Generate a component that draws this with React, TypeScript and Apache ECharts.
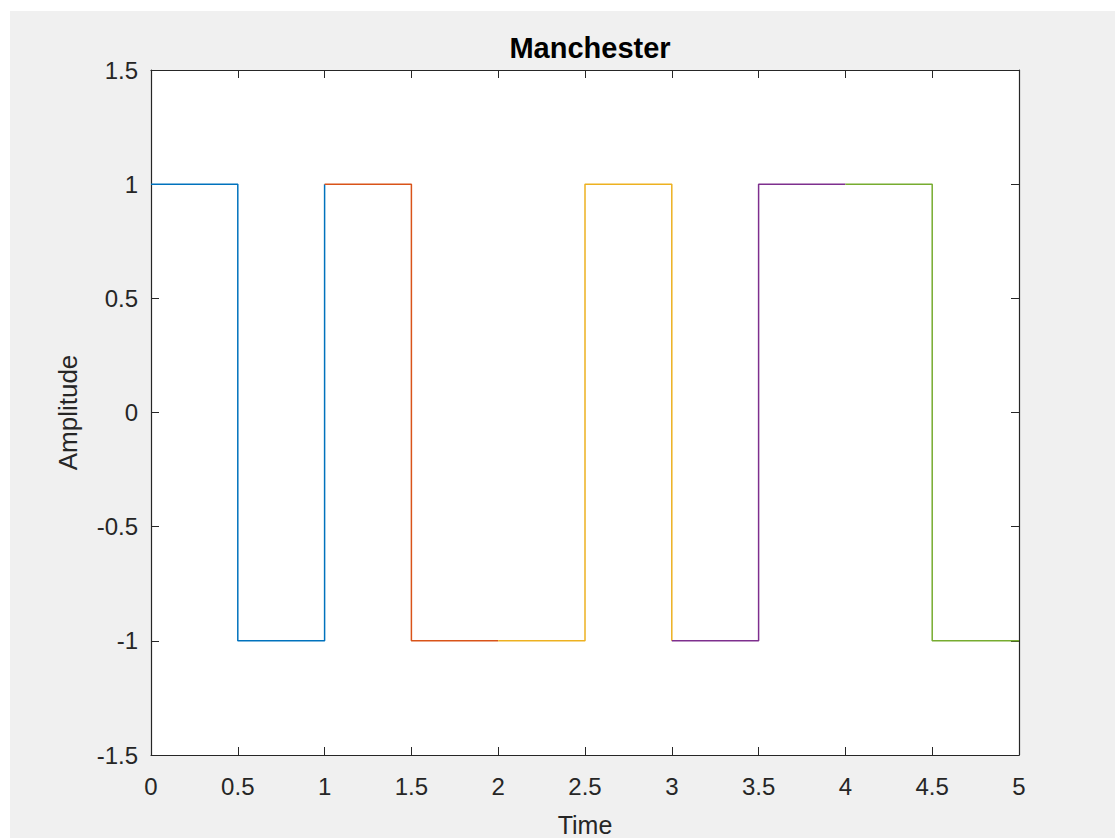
import React, { useEffect, useRef } from "react";
import * as echarts from "echarts";

const xTicks = { min: 0, max: 5, interval: 0.5 };
const yTicks = { min: -1.5, max: 1.5, interval: 0.5 };

const bitNames = ["bit1", "bit2", "bit3", "bit4", "bit5"];
const bitColors = ["#0072BD", "#D95319", "#EDB120", "#7E2F8E", "#77AC30"];
const bit1: [number, number][] = [[0, 1], [0.5, 1], [0.5, -1], [1, -1], [1, 1]];
const bit2: [number, number][] = [[1, 1], [1.5, 1], [1.5, -1], [2, -1]];
const bit3: [number, number][] = [[2, -1], [2.5, -1], [2.5, 1], [3, 1], [3, -1]];
const bit4: [number, number][] = [[3, -1], [3.5, -1], [3.5, 1], [4, 1]];
const bit5: [number, number][] = [[4, 1], [4.5, 1], [4.5, -1], [5, -1]];
const bitData = [bit1, bit2, bit3, bit4, bit5];

const AX = "#262626";
const FONT = "'Liberation Sans', Arial, Helvetica, sans-serif";

export default function App() {
  const ref = useRef<HTMLDivElement>(null);
  useEffect(() => {
    document.body.style.margin = "0";
    const chart = echarts.init(ref.current!, null, { renderer: "svg" });
    const tickCommon = { show: true, inside: true, length: 8, lineStyle: { color: AX, width: 1 } };
    const lineCommon = { show: true, onZero: false, lineStyle: { color: AX, width: 1.2 } };
    chart.setOption({
      animation: false,
      backgroundColor: "#ffffff",
      textStyle: { fontFamily: FONT },
      graphic: [
        {
          type: "rect",
          z: -10,
          silent: true,
          shape: { x: 10, y: 11, width: 1105, height: 827 },
          style: { fill: "#f0f0f0" },
        },
      ],
      title: {
        text: "Manchester",
        left: 585,
        top: 28,
        textAlign: "center",
        textStyle: { fontFamily: FONT, fontSize: 29, fontWeight: "bold", color: "#000" },
      },
      grid: {
        left: 151,
        top: 70,
        width: 868,
        height: 685,
        show: true,
        backgroundColor: "#ffffff",
        borderWidth: 0,
        containLabel: false,
        outerBoundsMode: "none",
      },
      xAxis: [
        {
          type: "value",
          ...xTicks,
          position: "bottom",
          name: "Time",
          nameLocation: "middle",
          nameGap: 57,
          nameTextStyle: { fontFamily: FONT, fontSize: 25, color: AX },
          axisLine: lineCommon,
          axisTick: tickCommon,
          axisLabel: { fontFamily: FONT, fontSize: 24, color: AX, margin: 19 },
          splitLine: { show: false },
        },
        {
          type: "value",
          ...xTicks,
          position: "top",
          axisLine: lineCommon,
          axisTick: tickCommon,
          axisLabel: { show: false },
          splitLine: { show: false },
        },
      ],
      yAxis: [
        {
          type: "value",
          ...yTicks,
          position: "left",
          name: "Amplitude",
          nameLocation: "middle",
          nameGap: 70,
          nameTextStyle: { fontFamily: FONT, fontSize: 26, color: AX },
          axisLine: lineCommon,
          axisTick: tickCommon,
          axisLabel: { fontFamily: FONT, fontSize: 24, color: AX, margin: 13 },
          splitLine: { show: false },
        },
        {
          type: "value",
          ...yTicks,
          position: "right",
          axisLine: lineCommon,
          axisTick: tickCommon,
          axisLabel: { show: false },
          splitLine: { show: false },
        },
      ],
      series: bitData.map((d, i) => ({
        name: bitNames[i],
        type: "line",
        data: d,
        xAxisIndex: 0,
        yAxisIndex: 0,
        showSymbol: false,
        symbol: "none",
        lineStyle: { color: bitColors[i], width: 1.5 },
        itemStyle: { color: bitColors[i] },
      })),
    });
    return () => chart.dispose();
  }, []);
  return <div ref={ref} style={{ width: 1115, height: 838 }} />;
}
